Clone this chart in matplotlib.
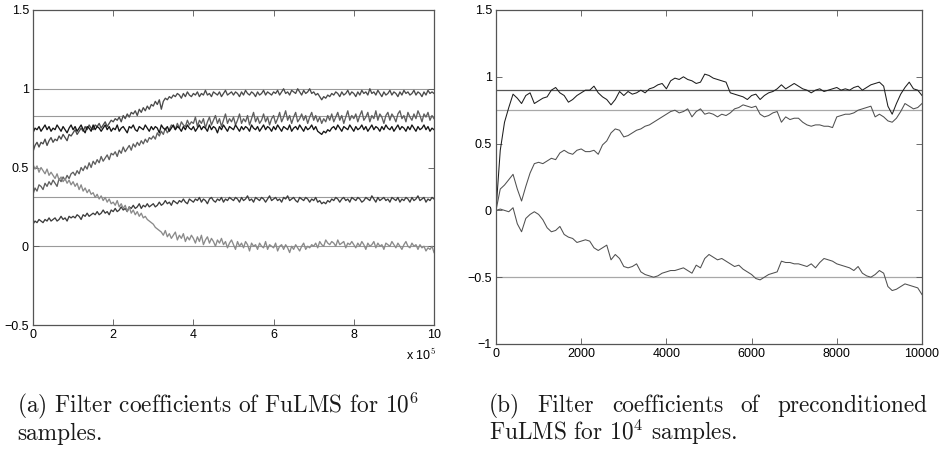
import numpy as np
import matplotlib
matplotlib.use("Agg")
import matplotlib.pyplot as plt

plt.rcParams['mathtext.fontset'] = 'cm'
plt.rcParams['font.family'] = ['Liberation Sans', 'DejaVu Sans']

# ---------------- (a) FuLMS, 10^6 samples (values in hundredths) ----------------
fulms_w1 = [60, 64, 66, 63, 66, 65, 68, 64, 67, 69, 66, 68, 67, 70, 68, 71, 69, 67, 71, 70,
            72, 74, 71, 73, 75, 73, 76, 74, 77, 75, 74, 77, 76, 78, 75, 77, 79, 76, 78, 80,
            79, 81, 80, 82, 79, 83, 81, 84, 82, 85, 84, 86, 83, 87, 85, 88, 86, 89, 87, 90,
            89, 92, 90, 93, 87, 92, 94, 93, 95, 94, 96, 95, 97, 96, 94, 97, 95, 98, 96, 95,
            97, 96, 98, 95, 97, 96, 99, 96, 97, 95, 98, 97, 96, 98, 95, 97, 99, 96, 97, 98,
            96, 98, 97, 95, 98, 96, 99, 97, 96, 98, 97, 95, 98, 96, 97, 99, 96, 98, 97, 96,
            98, 97, 99, 96, 98, 100, 97, 98, 96, 99, 98, 97, 100, 98, 96, 99, 97, 98, 100, 97,
            98, 96, 97, 95, 93, 95, 94, 96, 95, 97, 96, 98, 97, 95, 98, 96, 97, 99, 96, 98,
            97, 95, 98, 96, 99, 97, 98, 96, 100, 97, 98, 96, 99, 97, 95, 98, 96, 97, 99, 96,
            98, 97, 95, 98, 96, 99, 97, 98, 96, 97, 99, 96, 98, 97, 95, 98, 96, 99, 97, 98, 97]

fulms_w2 = [33, 37, 35, 39, 38, 36, 40, 38, 41, 39, 42, 40, 38, 43, 41, 44, 42, 45, 43, 46,
            47, 45, 48, 46, 50, 48, 51, 49, 53, 50, 54, 52, 55, 53, 57, 54, 56, 58, 55, 59,
            58, 60, 57, 61, 59, 63, 60, 62, 64, 61, 65, 63, 66, 64, 67, 65, 68, 66, 69, 68,
            70, 68, 72, 70, 73, 71, 75, 72, 74, 77, 76, 74, 78, 75, 79, 77, 76, 80, 77, 79,
            78, 82, 76, 80, 78, 81, 75, 79, 82, 77, 80, 83, 78, 81, 76, 80, 84, 78, 81, 79,
            82, 77, 80, 84, 78, 81, 79, 83, 77, 81, 85, 79, 82, 78, 80, 84, 79, 82, 77, 81,
            83, 78, 81, 85, 79, 82, 86, 80, 83, 78, 82, 85, 79, 81, 84, 80, 83, 78, 82, 85,
            80, 83, 79, 82, 78, 81, 79, 83, 80, 84, 79, 82, 85, 80, 83, 78, 82, 86, 80, 83,
            81, 84, 79, 83, 86, 80, 82, 85, 79, 83, 81, 86, 80, 84, 82, 78, 83, 85, 80, 84,
            82, 79, 84, 86, 81, 83, 79, 85, 82, 80, 84, 81, 86, 83, 79, 84, 82, 85, 80, 83, 81]

fulms_w3 = [72, 75, 74, 76, 73, 75, 77, 74, 76, 73, 75, 74, 77, 75, 73, 76, 74, 72, 75, 77,
            74, 76, 73, 75, 77, 74, 72, 76, 75, 73, 77, 74, 76, 75, 73, 75, 77, 74, 76, 73,
            75, 74, 77, 73, 75, 76, 74, 72, 76, 75, 77, 74, 73, 76, 75, 74, 77, 75, 73, 76,
            74, 76, 75, 72, 77, 75, 74, 76, 73, 75, 77, 74, 76, 75, 73, 76, 74, 77, 75, 74,
            76, 73, 75, 77, 74, 76, 75, 73, 77, 74, 76, 75, 72, 76, 74, 77, 75, 73, 76, 75,
            74, 77, 75, 73, 76, 74, 76, 75, 73, 77, 75, 74, 76, 73, 75, 77, 74, 76, 75, 73,
            76, 74, 77, 75, 73, 76, 75, 74, 77, 73, 75, 76, 74, 77, 75, 73, 76, 74, 75, 77,
            74, 76, 73, 72, 71, 73, 72, 74, 73, 75, 76, 74, 77, 75, 73, 76, 75, 74, 77, 75,
            73, 76, 74, 75, 77, 74, 76, 73, 75, 77, 74, 76, 75, 73, 76, 74, 77, 75, 74, 76,
            73, 75, 77, 74, 76, 75, 73, 76, 74, 77, 75, 73, 76, 74, 75, 77, 74, 76, 73, 75, 74]

fulms_w4 = [14, 16, 15, 17, 16, 15, 17, 16, 18, 16, 17, 18, 16, 17, 19, 17, 18, 16, 19, 18,
            19, 18, 20, 19, 17, 20, 19, 21, 19, 20, 21, 20, 22, 20, 21, 23, 21, 22, 20, 23,
            22, 24, 22, 23, 25, 23, 24, 22, 25, 24, 26, 24, 25, 27, 24, 26, 25, 27, 25, 26,
            27, 25, 26, 28, 26, 27, 29, 27, 28, 26, 29, 28, 27, 29, 28, 30, 28, 27, 30, 29,
            28, 30, 29, 31, 28, 30, 29, 27, 30, 31, 29, 28, 30, 29, 31, 28, 30, 29, 31, 30,
            29, 31, 30, 28, 31, 29, 30, 32, 29, 30, 28, 31, 30, 29, 31, 30, 28, 30, 32, 29,
            30, 31, 29, 30, 28, 31, 30, 32, 29, 30, 31, 29, 28, 31, 30, 29, 31, 30, 28, 30,
            29, 31, 28, 29, 27, 28, 27, 29, 28, 30, 29, 31, 30, 28, 30, 31, 29, 30, 28, 31,
            30, 29, 31, 30, 28, 29, 31, 30, 29, 32, 30, 28, 31, 29, 30, 31, 29, 30, 28, 31,
            30, 29, 31, 28, 30, 29, 31, 30, 28, 31, 29, 30, 32, 29, 30, 31, 28, 30, 29, 31, 30]

fulms_w5 = [52, 49, 51, 47, 50, 48, 46, 49, 45, 47, 45, 43, 46, 42, 44, 41, 43, 40, 42, 39,
            41, 38, 40, 36, 39, 35, 37, 34, 36, 33, 34, 31, 33, 30, 32, 29, 31, 28, 30, 27,
            28, 26, 29, 25, 27, 24, 26, 22, 25, 21, 23, 20, 22, 19, 21, 18, 19, 17, 16, 15,
            14, 12, 11, 10, 9, 7, 10, 6, 8, 5, 7, 9, 4, 7, 5, 8, 3, 6, 4, 7,
            5, 2, 6, 3, 7, 1, 4, 6, 2, 5, 3, 0, 4, 2, 5, 1, 3, -1, 2, 4,
            1, -2, 3, 0, 2, -1, 3, 1, -3, 2, 0, 1, -2, 2, 0, -1, 3, -2, 1, 0,
            -1, 2, -3, 0, 1, -2, 1, -1, -4, 0, -2, 1, -1, -3, 0, 2, -2, 0, -1, 1,
            0, 2, -1, 3, 1, 0, 4, 2, 1, 3, 2, 0, 4, 1, 2, 3, -1, 2, 1, 3,
            1, -1, 2, 0, 3, 1, -2, 2, 0, 1, 3, -1, 2, 0, 1, -2, 2, 1, 0, 3,
            1, -1, 2, 0, -2, 1, 3, 0, -1, 2, 0, 1, -2, 1, -1, 0, -3, -1, -2, 0, -4]

fulms_optimum = [1.0, 0.83, 0.31, 0.0]
fulms_colors = ['#4a4a4a', '#5e5e5e', '#151515', '#3c3c3c', '#8a8a8a']

# ------------- (b) preconditioned FuLMS, 10^4 samples (values in hundredths) -------------
pre_w1 = [0, 45, 66, 77, 87, 84, 80, 86, 88, 80, 82, 84, 85, 90, 92, 88, 86, 81, 83, 86,
          88, 90, 90, 93, 88, 85, 83, 79, 83, 89, 86, 89, 87, 88, 90, 88, 91, 92, 94, 95,
          91, 97, 99, 98, 100, 98, 97, 95, 96, 102, 101, 99, 98, 97, 96, 88, 87, 86, 85, 83,
          86, 87, 83, 86, 88, 89, 91, 94, 91, 93, 95, 93, 91, 90, 88, 90, 91, 89, 90, 91,
          92, 90, 91, 90, 92, 93, 90, 92, 94, 95, 96, 93, 78, 72, 80, 87, 92, 96, 91, 90, 86]

pre_w2 = [0, 16, 19, 23, 27, 16, 7, 18, 28, 35, 36, 35, 37, 39, 38, 43, 45, 43, 42, 45,
          46, 44, 44, 45, 42, 49, 52, 58, 61, 60, 55, 56, 58, 60, 61, 63, 64, 66, 68, 70,
          72, 74, 75, 73, 74, 76, 70, 74, 76, 72, 73, 72, 70, 72, 71, 73, 76, 77, 79, 78,
          77, 78, 72, 70, 71, 73, 74, 66, 70, 68, 69, 69, 66, 64, 63, 64, 64, 63, 63, 62,
          70, 71, 72, 72, 73, 75, 76, 77, 78, 70, 72, 70, 67, 66, 69, 74, 80, 78, 76, 77, 80]

pre_w3 = [0, 1, 0, -1, 2, -10, -16, -6, -3, -1, -3, -7, -13, -16, -15, -12, -18, -20, -21, -24,
          -23, -22, -23, -28, -30, -28, -26, -37, -33, -36, -42, -43, -42, -40, -46, -48, -49, -50, -49, -47,
          -46, -45, -45, -44, -43, -45, -47, -41, -43, -36, -33, -35, -37, -36, -38, -40, -42, -41, -44, -46,
          -48, -51, -52, -50, -48, -47, -46, -38, -39, -39, -40, -40, -41, -42, -40, -43, -39, -36, -37, -38,
          -40, -41, -42, -43, -45, -42, -47, -49, -50, -48, -45, -47, -57, -60, -59, -57, -55, -56, -57, -58, -63]

pre_optimum = [0.9, 0.75, -0.5]
pre_opt_colors = ['#555555', '#a8a8a8', '#a8a8a8']
pre_colors = ['#1e1e1e', '#505050', '#505050']

W, H = 944, 454
fig = plt.figure(figsize=(W / 100, H / 100), dpi=100)


def frame(x0, y0, x1, y1):
    return [x0 / W, 1 - y1 / H, (x1 - x0) / W, (y1 - y0) / H]


def matlab_style(ax):
    for sp in ax.spines.values():
        sp.set_color('#555555')
        sp.set_linewidth(0.9)
    ax.tick_params(direction='in', top=True, right=True, length=4, width=0.6,
                   color='#555555', labelsize=9, pad=3)


# ---- panel (a)
ax1 = fig.add_axes(frame(33, 10, 434, 325))
matlab_style(ax1)
for v in fulms_optimum:
    ax1.axhline(v, color='#9a9a9a', lw=0.8, zorder=1)
for series, c in zip([fulms_w2, fulms_w1, fulms_w3, fulms_w4, fulms_w5],
                     [fulms_colors[1], fulms_colors[0], fulms_colors[2],
                      fulms_colors[3], fulms_colors[4]]):
    vals = np.array(series) / 100.0
    n_a = np.linspace(0, 1e6, len(vals))
    ax1.plot(n_a, vals, color=c, lw=0.95, zorder=2)
ax1.set_xlim(0, 1e6)
ax1.set_ylim(-0.5, 1.5)
ax1.set_xticks(np.arange(0, 1e6 + 1, 2e5))
ax1.set_xticklabels(['0', '2', '4', '6', '8', '10'])
ax1.set_yticks([-0.5, 0, 0.5, 1, 1.5])
ax1.set_yticklabels(['\u22120.5', '0', '0.5', '1', '1.5'])
ax1.text(1.005, -0.07, r'x 10$^{5}$', transform=ax1.transAxes, ha='right', va='top',
         fontsize=9)

# ---- panel (b)
ax2 = fig.add_axes(frame(496, 10, 922, 344))
matlab_style(ax2)
for v, c in zip(pre_optimum, pre_opt_colors):
    ax2.axhline(v, color=c, lw=0.9, zorder=1)
for series, c in zip([pre_w3, pre_w2, pre_w1], [pre_colors[2], pre_colors[1], pre_colors[0]]):
    vals = np.array(series) / 100.0
    n_b = np.linspace(0, 10000, len(vals))
    ax2.plot(n_b, vals, color=c, lw=0.75, zorder=2)
ax2.set_xlim(0, 10000)
ax2.set_ylim(-1, 1.5)
ax2.set_xticks(np.arange(0, 10001, 2000))
ax2.set_yticks([-1, -0.5, 0, 0.5, 1, 1.5])
ax2.set_yticklabels(['\u22121', '\u22120.5', '0', '0.5', '1', '1.5'])

# ---- captions (Computer Modern, second caption's first line justified)
cap = dict(fontfamily='cmr10', fontsize=16.8, va='baseline', ha='left', color='#1a1a1a')
y1, y2 = 1 - 412 / H, 1 - 440 / H
fig.text(17 / W, y1, r'(a) Filter coefficients of FuLMS for $10^6$', **cap)
fig.text(17 / W, y2, 'samples.', **cap)
fig.text(489 / W, y2, r'FuLMS for $10^4$ samples.', **cap)

words_b = ['(b)', 'Filter', 'coefficients', 'of', 'preconditioned']
left_px, right_px = 489, 927
renderer = fig.canvas.get_renderer()
word_texts = [fig.text(0, y1, w, **cap) for w in words_b]
widths = [t.get_window_extent(renderer).width for t in word_texts]
gap = (right_px - left_px - sum(widths)) / (len(words_b) - 1)
xpos = left_px
for t, w in zip(word_texts, widths):
    t.set_x(xpos / W)
    xpos += w + gap

fig.savefig('out.png', dpi=100)
